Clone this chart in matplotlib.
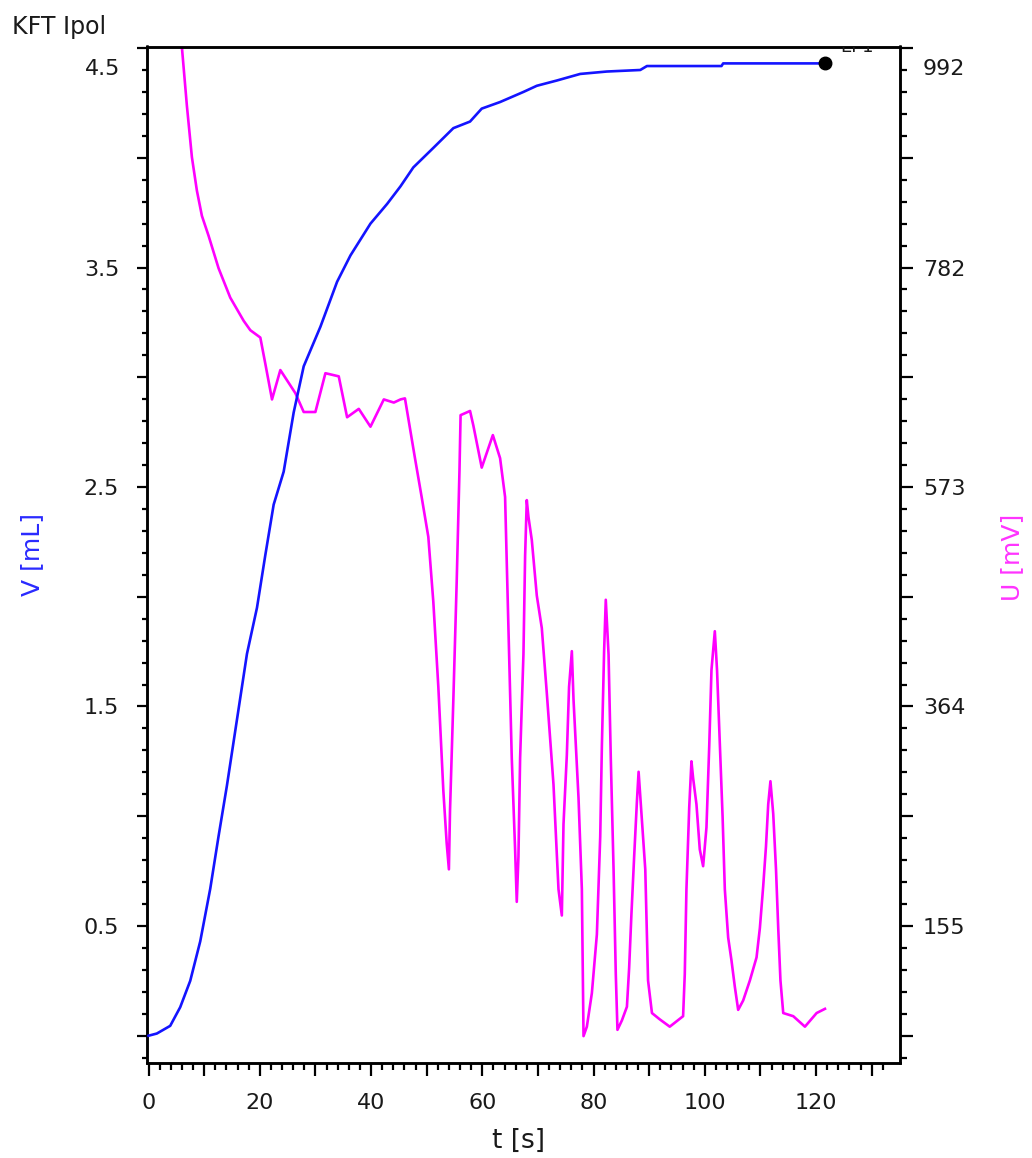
import matplotlib
matplotlib.use('Agg')
import matplotlib.pyplot as plt
from matplotlib.ticker import FixedLocator, FixedFormatter, NullFormatter

plt.rcParams['font.family'] = ['DejaVu Sans']

# ---------------- data ----------------
t_V = [0.0, 1.5, 3.9, 5.7, 7.5, 9.3, 11.1, 12.6, 14.1, 15.9, 17.7, 19.5, 21.0, 22.5,
       24.3, 26.1, 27.9, 30.9, 33.9, 36.3, 39.9, 42.9, 45.3, 47.6, 51.2, 54.8, 57.8,
       59.9, 63.2, 67.4, 69.8, 73.4, 77.6, 82.4, 88.4, 89.6, 103.0, 103.3, 121.6]
V = [0.0, 0.01, 0.045, 0.13, 0.25, 0.43, 0.67, 0.91, 1.14, 1.44, 1.74, 1.95, 2.19, 2.42,
     2.57, 2.84, 3.05, 3.23, 3.435, 3.555, 3.70, 3.79, 3.87, 3.956, 4.045, 4.135, 4.165,
     4.224, 4.254, 4.30, 4.328, 4.352, 4.382, 4.393, 4.40, 4.418, 4.418, 4.43, 4.43]

t_U = [5.6, 6.0, 6.9, 7.8, 8.7, 9.6, 10.8, 12.6, 14.7, 17.1, 18.3, 20.1, 21.0, 22.2,
       23.7, 26.4, 27.9, 30.0, 31.8, 34.2, 35.7, 37.8, 39.9, 42.3, 44.1, 45.3, 46.1,
       46.7, 47.9, 49.1, 50.3, 51.2, 52.1, 53.0, 53.6, 54.0, 54.2, 54.8, 55.4, 55.9,
       56.1, 57.8, 58.4, 59.9, 61.9, 63.2, 64.1, 64.7, 65.3, 65.9, 66.2, 66.5, 66.8,
       67.4, 67.7, 68.0, 68.3, 68.9, 69.8, 70.7, 71.6, 72.8, 73.7, 74.3, 74.6, 75.2,
       75.6, 76.1, 76.4, 77.3, 77.9, 78.2, 78.8, 79.7, 80.6, 81.2, 81.5, 81.9, 82.2,
       82.7, 83.1, 83.6, 84.0, 84.3, 85.1, 86.0, 86.4, 86.8, 87.3, 87.8, 88.1, 88.5,
       89.3, 89.8, 90.5, 91.9, 93.7, 96.1, 96.4, 96.7, 97.2, 97.6, 97.9, 98.5, 99.1,
       99.7, 100.3, 100.8, 101.2, 101.8, 102.2, 102.7, 103.2, 103.6, 104.2, 104.8,
       105.4, 106.0, 106.9, 108.1, 109.3, 109.9, 110.5, 111.0, 111.4, 111.8, 112.3,
       112.8, 113.2, 113.6, 114.1, 115.9, 118.0, 120.1, 121.6]
U = [1030, 993, 937, 888, 856, 832, 813, 782, 754, 732, 723, 716, 691, 657,
     685, 663, 645, 645, 682, 679, 640, 648, 631, 657, 654, 657, 658,
     639, 601, 564, 526, 464, 383, 284, 234, 209, 265, 371, 483, 589,
     642, 646, 632, 592, 623, 601, 564, 439, 315, 228, 178, 221, 315,
     414, 508, 561, 545, 523, 470, 439, 377, 290, 190, 165, 252, 318,
     383, 417, 371, 277, 190, 50, 59, 91, 147, 240, 327, 417, 466,
     414, 315, 209, 109, 56, 65, 78, 115, 165, 221, 274, 302, 271,
     209, 103, 72, 66, 59, 69, 109, 190, 268, 312, 296, 271, 228,
     212, 249, 327, 399, 436, 399, 330, 259, 190, 144, 122,
     97, 75, 84, 103, 125, 153, 193, 231, 271, 293, 262,
     209, 153, 103, 72, 69, 59, 72, 76]

x_major = [0, 10, 20, 30, 40, 50, 60, 70, 80, 90, 100, 110, 120, 130]
x_labels = ['0', '', '20', '', '40', '', '60', '', '80', '', '100', '', '120', '']
v_major = [0.0, 0.5, 1.0, 1.5, 2.0, 2.5, 3.0, 3.5, 4.0, 4.5]
v_labels = ['', '0.5', '', '1.5', '', '2.5', '', '3.5', '', '']
u_labels = ['155', '364', '573', '782', '992']
u_label_v = [0.5, 1.5, 2.5, 3.5, 4.5]
ep_label = 'EP1'

# mapping of the right scale onto the left one
U0, U_per_V = 50.375, 209.25
V_LIM = (-0.122, 4.507)
T_LIM = (-0.27, 135.0)

BLUE = '#1414ff'
MAG = '#ff00ff'
TXT = '#1a1a1a'

W, H = 1032, 1158
fig = plt.figure(figsize=(W / 100, H / 100), dpi=100)
L, R, T, B = 147, 899.5, 46.5, 1062.5
ax = fig.add_axes([L / W, 1 - B / H, (R - L) / W, (B - T) / H])
ax2 = ax.twinx()

ax.set_xlim(*T_LIM)
ax.set_ylim(*V_LIM)
ax2.set_ylim(U0 + V_LIM[0] * U_per_V, U0 + V_LIM[1] * U_per_V)

ax2.plot(t_U, U, color=MAG, lw=1.9, zorder=2)
ax.plot(t_V, V, color=BLUE, lw=1.9, zorder=3)
ax.plot(t_V[-1:], V[-1:], 'o', color='black', ms=9, zorder=4)
ax.set_zorder(ax2.get_zorder() + 1)
ax.patch.set_visible(False)

ax.text(t_V[-1] + 5.85, V[-1] + 0.05, ep_label, ha='center', va='baseline',
        fontsize=13, color=TXT, clip_on=True)

for a in (ax, ax2):
    for s in a.spines.values():
        s.set_linewidth(1.8)
        s.set_color('black')

# x ticks
ax.xaxis.set_major_locator(FixedLocator(x_major))
ax.xaxis.set_major_formatter(FixedFormatter(x_labels))
ax.xaxis.set_minor_locator(FixedLocator([m for m in range(0, 134, 2) if m % 10]))
ax.tick_params(axis='x', which='major', length=9, width=1.6, pad=13,
               labelsize=16, labelcolor=TXT)
ax.tick_params(axis='x', which='minor', length=5, width=1.6)

# left y ticks
ax.yaxis.set_major_locator(FixedLocator(v_major))
ax.yaxis.set_major_formatter(FixedFormatter(v_labels))
v_minor = [round(-0.1 + 0.1 * i, 2) for i in range(47)]
v_minor = [v for v in v_minor if abs(v * 2 - round(v * 2)) > 1e-6]
ax.yaxis.set_minor_locator(FixedLocator(v_minor))
ax.tick_params(axis='y', which='major', length=7, width=1.6, pad=13,
               labelsize=16, labelcolor=TXT)
ax.tick_params(axis='y', which='minor', length=3.5, width=1.6)

# right y ticks (same pixel positions)
ax2.yaxis.set_major_locator(FixedLocator([U0 + v * U_per_V for v in v_major]))
ax2.yaxis.set_major_formatter(NullFormatter())
ax2.yaxis.set_minor_locator(FixedLocator([U0 + v * U_per_V for v in v_minor]))
ax2.tick_params(axis='y', which='major', length=9, width=1.6)
ax2.tick_params(axis='y', which='minor', length=5, width=1.6)

# right tick labels (top one shifted into the plot height like the original)
for lab, v in zip(u_labels, u_label_v):
    dy = -19 if v == 4.5 else 0
    ax.annotate(lab, xy=(1, v), xycoords=('axes fraction', 'data'),
                xytext=(23.5, dy), textcoords='offset pixels',
                ha='left', va='center_baseline', fontsize=16, color=TXT)
# top left tick label shifted down
ax.annotate('4.5', xy=(0, 4.5), xycoords=('axes fraction', 'data'),
            xytext=(-27, -19), textcoords='offset pixels',
            ha='right', va='center_baseline', fontsize=16, color=TXT)

fig.text(12 / W, 1 - 27 / H, 'KFT Ipol', ha='left', va='center', fontsize=17, color=TXT)
fig.text(32 / W, 1 - 555 / H, 'V [mL]', rotation=90, ha='center', va='center',
         fontsize=18, color='#2a2aff')
fig.text(1012 / W, 1 - 557 / H, 'U [mV]', rotation=90, ha='center', va='center',
         fontsize=18, color='#ff33ff')
fig.text(519 / W, 1 - 1141 / H, 't [s]', ha='center', va='center', fontsize=19, color=TXT)

fig.savefig('out.png', dpi=100, facecolor='white')
